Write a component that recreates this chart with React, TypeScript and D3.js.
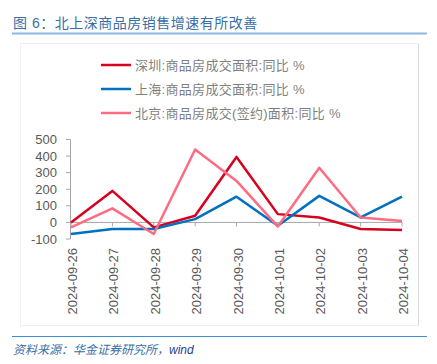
import React from "react";
import * as d3 from "d3";

const dates = ["2024-09-26","2024-09-27","2024-09-28","2024-09-29","2024-09-30","2024-10-01","2024-10-02","2024-10-03","2024-10-04"];
const shenzhen = [0, 190, -30, 40, 395, 50, 30, -40, -45];
const shanghai = [-70, -40, -40, 20, 155, -20, 160, 30, 155];
const beijing = [-30, 85, -70, 440, 250, -25, 330, 30, 8];
const yTicks = [-100, 0, 100, 200, 300, 400, 500];
const seriesNames = ["深圳:商品房成交面积:同比 %", "上海:商品房成交面积:同比 %", "北京:商品房成交(签约)面积:同比 %"];
const colors = ["#d7001e", "#0070c0", "#ff6c80"];

export default function App() {
  const W = 437, H = 364;
  const x = d3.scalePoint<string>().domain(dates).range([71, 402]);
  const y = d3.scaleLinear().domain([-100, 500]).range([239, 139.5]);
  const line = d3.line<number>().x((_, i) => x(dates[i])!).y(d => y(d));
  const series = [shenzhen, shanghai, beijing];
  const font = "Arial, 'Liberation Sans', 'Noto Sans CJK SC', sans-serif";
  return (
    <svg width={W} height={H} style={{ position: "absolute", left: 0, top: 0 }} fontFamily={font}>
      <rect width={W} height={H} fill="#fff" />
      <text x={13} y={28} fontSize={14} fill="#3a6ea5" letterSpacing={0.5}>图 6：北上深商品房销售增速有所改善</text>
      <line x1={12} x2={427} y1={33.5} y2={33.5} stroke="#8cb7e0" strokeWidth={2} />
      <rect x={20.5} y={43.5} width={398} height={282} fill="none" stroke="#f0f0f0" />
      <line x1={418.5} x2={418.5} y1={44} y2={326} stroke="#d9d9d9" />
      {series.map((s, i) => (
        <g key={i}>
          <line x1={101} x2={131} y1={65 + i * 24} y2={65 + i * 24} stroke={colors[i]} strokeWidth={2.5} />
          <text x={135} y={70 + i * 24} fontSize={13} fill="#7f7f7f" letterSpacing={0.3}>{seriesNames[i]}</text>
        </g>
      ))}
      <line x1={70.5} x2={70.5} y1={y(500)} y2={y(-100)} stroke="#a6a6a6" />
      {yTicks.map(t => (
        <g key={t}>
          <line x1={66} x2={70.5} y1={y(t)} y2={y(t)} stroke="#a6a6a6" />
          <text x={57} y={y(t) + 4.5} fontSize={13} fill="#595959" textAnchor="end">{t}</text>
        </g>
      ))}
      <line x1={71} x2={402} y1={y(0)} y2={y(0)} stroke="#a6a6a6" />
      {dates.map(d => (
        <g key={d}>
          <line x1={x(d)} x2={x(d)} y1={y(0)} y2={y(0) + 4} stroke="#a6a6a6" />
          <text transform={`translate(${x(d)! + 6},248) rotate(-90)`} fontSize={13} fill="#595959" textAnchor="end">{d}</text>
        </g>
      ))}
      {series.map((s, i) => (
        <path key={i} d={line(s)!} fill="none" stroke={colors[i]} strokeWidth={2.5} strokeLinejoin="round" />
      ))}
      <line x1={12} x2={427} y1={336.5} y2={336.5} stroke="#3a8fd0" strokeWidth={1} />
      <text x={13} y={354} fontSize={12} fill="#3a6ea5" fontStyle="italic">资料来源：华金证券研究所，<tspan fill="#1f3f8f">wind</tspan></text>
    </svg>
  );
}
